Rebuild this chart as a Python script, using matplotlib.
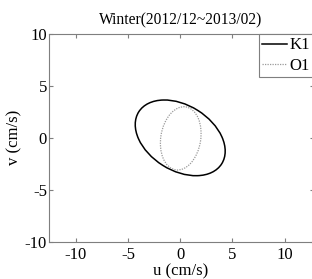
import matplotlib
matplotlib.use("Agg")
import matplotlib.pyplot as plt
from matplotlib.patches import Ellipse
from matplotlib.lines import Line2D

# tidal ellipse parameters (cm/s, degrees)
constituents = ["K1", "O1"]
semi_major = [4.69, 3.07]
semi_minor = [3.13, 1.91]
inclination = [-32.3, 80.9]
center_u = [0.0, 0.05]
center_v = [0.0, -0.05]

styles = [dict(color="black", ls="-", lw=1.1), dict(color="#9a9a9a", ls=(0, (1, 1)), lw=0.9)]

xticks = [-10, -5, 0, 5, 10]
yticks = [-10, -5, 0, 5, 10]

plt.rcParams["font.family"] = ["Liberation Serif", "DejaVu Serif"]
plt.rcParams["font.size"] = 12
plt.rcParams["axes.unicode_minus"] = False

fig = plt.figure(figsize=(3.12, 2.79), dpi=100)
ax = fig.add_axes([48.5 / 312, 1 - 241.7 / 279, (313.5 - 48.5) / 312, (241.7 - 34) / 279])

handles = []
for i, name in enumerate(constituents):
    st = styles[i]
    e = Ellipse((center_u[i], center_v[i]), 2 * semi_major[i], 2 * semi_minor[i],
                angle=inclination[i], fill=False, edgecolor=st["color"],
                linestyle=st["ls"], linewidth=st["lw"])
    ax.add_patch(e)
    handles.append(Line2D([], [], color=st["color"], ls=st["ls"], lw=st["lw"], label=name))

ax.set_xlim(-12.6, 12.75)
ax.set_ylim(-10, 10)
ax.set_xticks(xticks)
ax.set_yticks(yticks)
ax.tick_params(direction="in", length=3, top=True, right=True, colors="#7f7f7f",
               labelcolor="black", labelsize=12)
ax.tick_params(axis="x", pad=4)
ax.tick_params(axis="y", pad=1)
for s in ax.spines.values():
    s.set_color("#7f7f7f")
    s.set_linewidth(0.8)

ax.set_xlabel("u (cm/s)", fontsize=12, labelpad=0)
ax.set_ylabel("v (cm/s)", fontsize=12, labelpad=2)
ax.set_title("Winter(2012/12~2013/02)", fontsize=11.2, pad=7)

leg = ax.legend(handles=handles, loc="upper right", fontsize=12, fancybox=False,
                edgecolor="#7f7f7f", framealpha=1, borderaxespad=0,
                handlelength=1.5, handletextpad=0.15, borderpad=0.2, labelspacing=0.25)
leg.get_frame().set_linewidth(0.8)

fig.savefig("out.png", dpi=100)
